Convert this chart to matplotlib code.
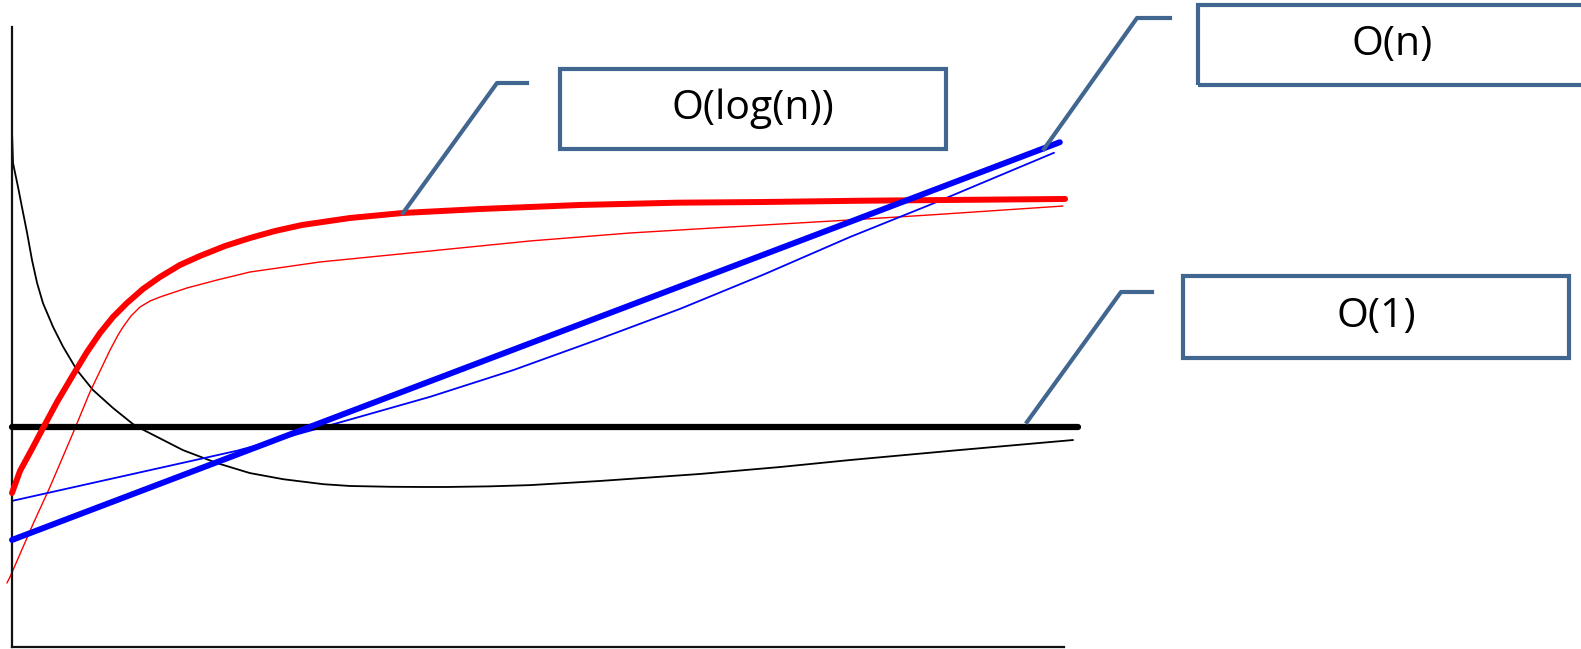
import matplotlib
matplotlib.use("Agg")
import matplotlib.pyplot as plt
from matplotlib.patches import Rectangle
from matplotlib.lines import Line2D

# ---- data (n on x axis 0..100, cost on y axis 0..100) ----
const_x = [0.0, 101.3]
const_y = [35.4, 35.4]

black_thin_x = [0.0, 0.1, 0.57, 0.95, 1.43, 1.9, 2.38, 2.95, 3.9, 4.85, 6.18, 7.7, 9.6,
                11.5, 12.45, 16.25, 19.5, 22.6, 25.8, 29.6, 32.13, 36.0, 39.07, 41.35,
                45.4, 49.24, 55.89, 65.4, 73.0, 79.66, 90.11, 100.86]
black_thin_y = [83.1, 78.0, 74.2, 70.9, 66.8, 62.4, 58.7, 55.4, 51.6, 48.4, 44.6, 41.4, 38.5,
                35.9, 35.0, 31.7, 29.6, 28.0, 27.0, 26.2, 25.91, 25.78, 25.75, 25.75,
                25.85, 26.05, 26.72, 27.85, 28.97, 30.1, 31.72, 33.33]

log_x = [0.0, 0.76, 2.0, 2.95, 4.28, 5.8, 7.13, 8.37, 9.6, 10.93, 12.45, 14.07, 15.97,
         17.87, 20.25, 22.62, 25.0, 27.57, 32.13, 37.17, 44.49, 53.99, 63.21, 71.39,
         80.89, 100.1]
log_y = [24.78, 28.33, 32.21, 35.27, 39.47, 43.83, 47.54, 50.61, 53.19, 55.45, 57.71,
         59.65, 61.59, 63.04, 64.65, 65.94, 67.07, 68.04, 69.17, 69.98, 70.62, 71.27,
         71.64, 71.75, 71.96, 72.24]

red_thin_x = [-0.48, -0.19, 2.0, 3.61, 5.8, 7.41, 9.32, 10.08, 10.55, 11.31, 12.17, 13.12,
              14.07, 16.63, 19.49, 22.62, 29.28, 39.73, 49.24, 58.75, 68.25, 79.66, 87.26,
              99.9]
red_thin_y = [10.25, 11.22, 19.77, 25.75, 34.46, 41.08, 47.86, 50.28, 51.57, 53.35, 54.8,
              55.77, 56.42, 57.87, 59.16, 60.45, 62.07, 63.84, 65.46, 66.75, 67.72, 68.85,
              69.66, 71.1]

lin_x = [0.0, 99.6]
lin_y = [17.2, 81.4]

blue_thin_x = [0.0, 21.39, 29.56, 39.73, 47.62, 55.61, 63.5, 71.39, 79.66, 87.26, 99.05]
blue_thin_y = [23.5, 31.6, 35.4, 40.3, 44.6, 49.5, 54.5, 60.0, 66.1, 71.3, 79.7]

labels = ["O(log(n))", "O(n)", "O(1)"]

W, H = 1581, 649
fig = plt.figure(figsize=(W / 100, H / 100), dpi=100)
ax = fig.add_axes([12 / W, (H - 646.5) / H, 1052 / W, (646.5 - 27) / H])
ax.set_xlim(0, 100)
ax.set_ylim(0, 100)
ax.set_xticks([])
ax.set_yticks([])
for s in ["top", "right"]:
    ax.spines[s].set_visible(False)
for s in ["left", "bottom"]:
    ax.spines[s].set_linewidth(1.6)
    ax.spines[s].set_color("#111111")

kw = dict(clip_on=False, solid_joinstyle="round", solid_capstyle="round")
ax.plot(black_thin_x, black_thin_y, color="black", lw=1.3, zorder=2, **kw)
ax.plot(red_thin_x, red_thin_y, color="#FF0000", lw=1.0, zorder=2, **kw)
ax.plot(blue_thin_x, blue_thin_y, color="#0000FF", lw=1.3, zorder=2, **kw)
ax.plot(const_x, const_y, color="black", lw=4.5, zorder=3, **kw)
ax.plot(log_x, log_y, color="#FF0000", lw=4.3, zorder=3, **kw)
ax.plot(lin_x, lin_y, color="#0000FF", lw=4.3, zorder=3, **kw)

# ---- callouts (figure pixel layout) ----
def fx(x):
    return x / W

def fy(y):
    return 1 - y / H

callout_color = "#41668F"
boxes = [(560, 69, 946, 149), (1198, 5, 1586, 85), (1183, 276, 1569, 358)]
leaders = [[(403, 213), (497, 83), (527, 83)],
           [(1044, 149), (1137, 18), (1170, 18)],
           [(1027, 422), (1121, 292), (1152, 292)]]
for (x0, y0, x1, y1), lead, lab in zip(boxes, leaders, labels):
    fig.add_artist(Rectangle((fx(x0), fy(y1)), fx(x1 - x0), (y1 - y0) / H,
                             transform=fig.transFigure, fill=False,
                             edgecolor=callout_color, lw=3.0, zorder=5))
    fig.add_artist(Line2D([fx(p[0]) for p in lead], [fy(p[1]) for p in lead],
                          transform=fig.transFigure, color=callout_color, lw=3.0,
                          zorder=5))
    fig.text(fx((x0 + x1) / 2), fy((y0 + y1) / 2), lab, ha="center", va="center",
             fontsize=29.5, family="Open Sans", color="black", zorder=6)

fig.savefig("out.png", dpi=100)
